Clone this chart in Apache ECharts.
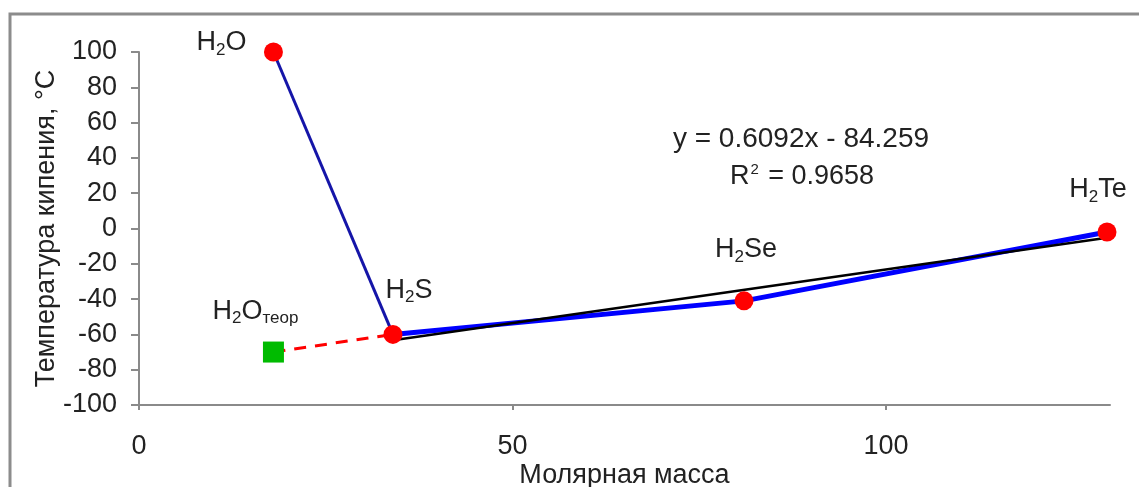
<!DOCTYPE html>
<html>
<head>
<meta charset="utf-8">
<script src="https://cdn.jsdelivr.net/npm/echarts@6/dist/echarts.min.js"></script>
<style>
html,body{margin:0;padding:0;background:#fff;}
#chart{width:1139px;height:487px;}
</style>
</head>
<body>
<div id="chart"></div>
<script>
// ---- data ----
const compounds = ['H2O', 'H2S', 'H2Se', 'H2Te'];
const molarMass = [18, 34, 81, 129.6];
const boilingPoint = [100, -60, -41, -2];
const theoreticalMass = 18;
const theoreticalBoiling = -70;
const trendX = [34, 129.6];
const trendY = [-63.3, -5.3];
const xTicks = [0, 50, 100];
const equationText = 'y = 0.6092x - 84.259';
const r2Text = '{n|R}{sup|2}{n| = 0.9658}';
const labelTexts = {
  'H2O': '{n|H}{s|2}{n|O}',
  'H2S': '{n|H}{s|2}{n|S}',
  'H2Se': '{n|H}{s|2}{n|Se}',
  'H2Te': '{n|H}{s|2}{n|Te}',
  'teor': '{n|H}{s|2}{n|O}{t|теор}'
};

const FONT = 'Liberation Sans, Arial, sans-serif';
const FS = 27;
const TXT = '#222';
const rich = {
  n: {fontSize: FS, color: TXT, fontFamily: FONT, lineHeight: 34},
  s: {fontSize: 17, color: TXT, fontFamily: FONT, padding: [14, 0, 0, 0], lineHeight: 34},
  t: {fontSize: 17, color: TXT, fontFamily: FONT, padding: [14, 0, 0, 0], lineHeight: 34},
  sup: {fontSize: 15, color: TXT, fontFamily: FONT, padding: [0, 2, 14, 1], lineHeight: 34}
};
const labelOffsets = {
  'H2O': [-52, -9],
  'H2S': [16, -44],
  'H2Se': [2, -51],
  'H2Te': [-9, -42],
  'teor': [-18, -41]
};

const pointsData = compounds.map((c, i) => ({
  value: [molarMass[i], boilingPoint[i]],
  label: {
    show: true, position: 'inside', formatter: labelTexts[c], rich: rich,
    offset: labelOffsets[c], color: TXT, textBorderWidth: 0
  }
}));

const chart = echarts.init(document.getElementById('chart'));
chart.setOption({
  animation: false,
  backgroundColor: '#fff',
  grid: {left: 139, right: 29, top: 52, bottom: 82, containLabel: false, outerBoundsMode: 'none'},
  xAxis: {
    type: 'value', min: 0, max: 130, interval: 50,
    name: 'Молярная масса', nameLocation: 'middle', nameGap: 57, nameMoveOverlap: false,
    nameTextStyle: {fontSize: FS, color: TXT, fontFamily: FONT},
    axisLine: {show: true, onZero: false, lineStyle: {color: '#8a8a8a', width: 2}},
    axisTick: {show: true, length: 5, lineStyle: {color: '#8a8a8a', width: 2}, customValues: xTicks},
    axisLabel: {fontSize: FS, color: TXT, fontFamily: FONT, margin: 28, customValues: xTicks},
    splitLine: {show: false}
  },
  yAxis: {
    type: 'value', min: -100, max: 100, interval: 20,
    name: 'Температура кипения, °С', nameLocation: 'middle', nameGap: 79, nameRotate: 90, nameMoveOverlap: false,
    nameTextStyle: {fontSize: FS, color: TXT, fontFamily: FONT},
    axisLine: {show: true, onZero: false, lineStyle: {color: '#8a8a8a', width: 2}},
    axisTick: {show: true, length: 8, lineStyle: {color: '#8a8a8a', width: 2}},
    axisLabel: {fontSize: FS, color: TXT, fontFamily: FONT, margin: 22},
    splitLine: {show: false}
  },
  graphic: [
    {type: 'rect', shape: {x: 10, y: 14, width: 1300, height: 700},
     style: {fill: 'none', stroke: '#8c8c8c', lineWidth: 3}, z: -1},
    {type: 'text', x: 801, y: 139, style: {text: equationText, fontSize: 28, fill: TXT, fontFamily: FONT, align: 'center', verticalAlign: 'middle'}},
    {type: 'text', x: 802, y: 177, style: {text: r2Text, rich: rich, fill: TXT, align: 'center', verticalAlign: 'middle'}}
  ],
  series: [
    {
      type: 'line', name: 'theor', z: 2,
      data: [[theoreticalMass, theoreticalBoiling], [molarMass[1], boilingPoint[1]]],
      symbol: 'none',
      lineStyle: {color: '#ff0000', width: 3, type: [12, 9]}
    },
    {
      type: 'line', name: 'h2o-h2s', z: 3,
      data: [[molarMass[0], boilingPoint[0]], [molarMass[1], boilingPoint[1]]],
      symbol: 'none',
      lineStyle: {color: '#1515a8', width: 3}
    },
    {
      type: 'line', name: 'heavy', z: 3,
      data: molarMass.slice(1).map((m, i) => [m, boilingPoint[i + 1]]),
      symbol: 'none',
      lineStyle: {color: '#0000ff', width: 5}
    },
    {
      type: 'line', name: 'trend', z: 4,
      data: trendX.map((x, i) => [x, trendY[i]]),
      symbol: 'none',
      lineStyle: {color: '#000000', width: 2.5}
    },
    {
      type: 'scatter', name: 'points', z: 5,
      symbol: 'circle', symbolSize: 19,
      itemStyle: {color: '#ff0000', opacity: 1},
      data: pointsData
    },
    {
      type: 'scatter', name: 'teor', z: 5,
      symbol: 'rect', symbolSize: 21,
      itemStyle: {color: '#00bb00', opacity: 1},
      data: [{
        value: [theoreticalMass, theoreticalBoiling],
        label: {show: true, position: 'inside', formatter: labelTexts['teor'], rich: rich, offset: labelOffsets['teor'], color: TXT, textBorderWidth: 0}
      }]
    }
  ]
});
</script>
</body>
</html>
